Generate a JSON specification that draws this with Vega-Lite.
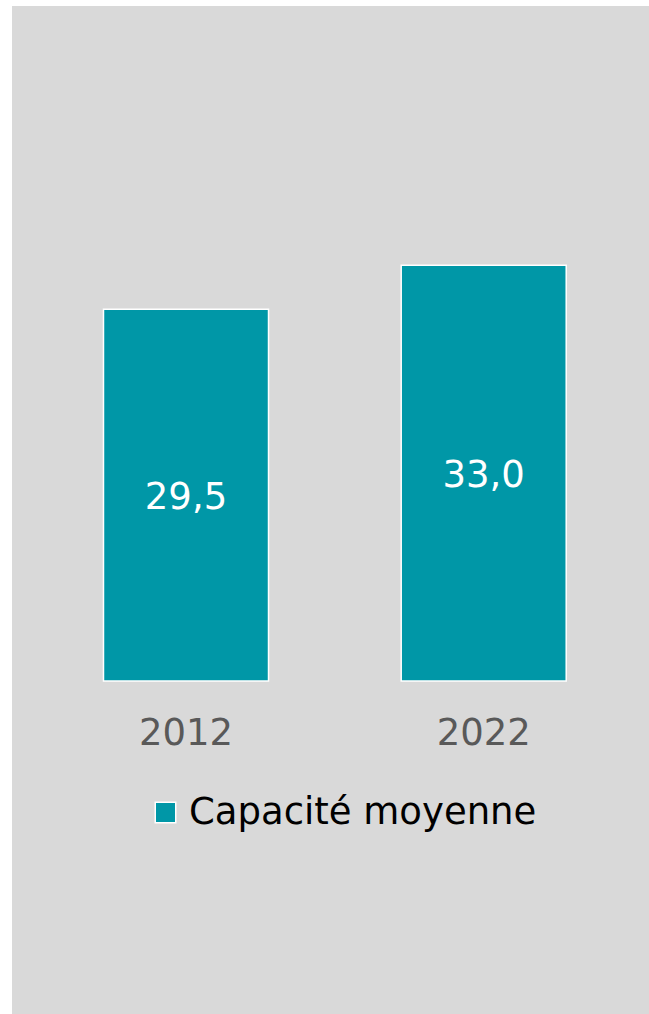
{
  "$schema": "https://vega.github.io/schema/vega-lite/v6.json",
  "width": 637,
  "height": 1008,
  "autosize": {"type": "none"},
  "padding": {"left": 12, "top": 6, "right": 0, "bottom": 0},
  "background": "white",
  "config": {
    "view": {"fill": "#D9D9D9", "stroke": null},
    "font": "DejaVu Sans",
    "locale": {"number": {"decimal": ",", "thousands": " ", "grouping": [3], "currency": ["", " €"]}}
  },
  "data": {"values": [
    {"year": "2012", "value": 29.5, "series": "Capacité moyenne"},
    {"year": "2022", "value": 33.0, "series": "Capacité moyenne"}
  ]},
  "transform": [{"calculate": "datum.value / 2", "as": "mid"}],
  "encoding": {
    "x": {
      "field": "year", "type": "nominal", "sort": null,
      "scale": {"paddingInner": 0.4457, "paddingOuter": 0.2927, "align": 0.525, "round": false},
      "axis": {
        "title": null, "orient": "bottom", "offset": -333, "domain": false, "ticks": false, "tickSize": 0,
        "labelPadding": 34, "labelFontSize": 37, "labelColor": "#595959", "labelAngle": 0, "labelFont": "DejaVu Sans"
      }
    }
  },
  "layer": [
    {
      "mark": {"type": "bar", "stroke": "white", "strokeWidth": 1.5},
      "encoding": {
        "y": {"field": "value", "type": "quantitative", "scale": {"domain": [-26.43, 53.57], "nice": false, "zero": false}, "axis": null},
        "y2": {"datum": 0},
        "color": {
          "field": "series", "type": "nominal",
          "scale": {"range": ["#0097A7"]},
          "legend": {
            "title": null, "orient": "none", "legendX": 135, "legendY": 788,
            "symbolType": "square", "symbolSize": 420, "symbolStrokeColor": "white", "symbolStrokeWidth": 1.5,
            "symbolOpacity": 1, "labelFontSize": 37, "labelColor": "black", "labelFont": "DejaVu Sans", "labelLimit": 600, "labelOffset": 5
          }
        }
      }
    },
    {
      "mark": {"type": "text", "color": "white", "fontSize": 37, "baseline": "middle", "align": "center", "dy": 3},
      "encoding": {
        "y": {"field": "mid", "type": "quantitative"},
        "text": {"field": "value", "type": "quantitative", "format": ".1f"}
      }
    }
  ]
}
